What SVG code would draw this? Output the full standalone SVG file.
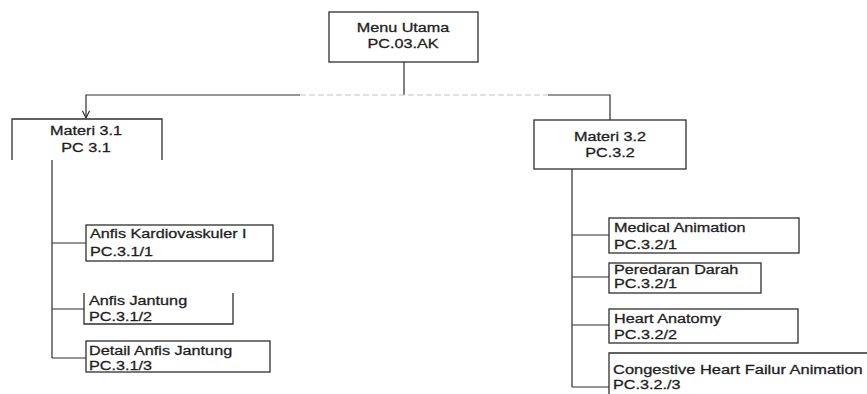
<svg xmlns="http://www.w3.org/2000/svg" width="867" height="394" viewBox="0 0 867 394">
  <style>
    .box { fill: none; stroke: #2e2e2e; stroke-width: 1.3; }
    .wire { fill: none; stroke: #2e2e2e; stroke-width: 1.2; }
    .faint { fill: none; stroke: #c4c4c4; stroke-width: 1.1; stroke-dasharray: 6 3; }
    .lbl { font-family: "Liberation Sans", Arial, sans-serif; font-size: 13.5px; fill: #1e1e1e; stroke: #1e1e1e; stroke-width: 0.3; }
    .mid { text-anchor: middle; }
  </style>
  <defs>
    <marker id="arrow" viewBox="0 0 10 10" refX="9" refY="5" markerWidth="9" markerHeight="9" orient="auto" markerUnits="userSpaceOnUse">
      <path d="M1,1 L9,5 L1,9" fill="none" stroke="#2e2e2e" stroke-width="1.3"/>
    </marker>
  </defs>
  <rect width="867" height="394" fill="#ffffff"/>

  <!-- connectors -->
  <g id="connectors">
    <path class="wire" d="M404,62 V95"/>
    <path class="wire" d="M300,95 H86 V118" marker-end="url(#arrow)"/>
    <path class="faint" d="M300,95 H548"/>
    <path class="wire" d="M548,95 H610 V120"/>
    <path class="wire" d="M52,160 V358 M52,243 H86 M52,309 H84 M52,358 H86"/>
    <path class="wire" d="M572,169 V387 M572,235 H609 M572,277 H609 M572,325 H609 M572,387 H609"/>
  </g>

  <!-- root -->
  <g id="menu-utama">
    <rect class="box" x="329" y="12" width="149" height="50"/>
    <text class="lbl mid" transform="translate(403,32) scale(1.2,1)">Menu Utama</text>
    <text class="lbl mid" transform="translate(403,48) scale(1.2,1)">PC.03.AK</text>
  </g>

  <!-- first branch -->
  <g id="materi-3-1">
    <path class="box" d="M12,160 V119 H162 V160"/>
    <text class="lbl mid" transform="translate(86,135) scale(1.2,1)">Materi 3.1</text>
    <text class="lbl mid" transform="translate(86,152) scale(1.2,1)">PC 3.1</text>
  </g>
  <g id="anfis-kardiovaskuler">
    <rect class="box" x="86" y="225" width="187" height="36"/>
    <text class="lbl" transform="translate(90,238) scale(1.2,1)">Anfis Kardiovaskuler I</text>
    <text class="lbl" transform="translate(90,256) scale(1.2,1)">PC.3.1/1</text>
  </g>
  <g id="anfis-jantung">
    <path class="box" d="M84,293 V324 H233 V293"/>
    <text class="lbl" transform="translate(89,305) scale(1.2,1)">Anfis Jantung</text>
    <text class="lbl" transform="translate(89,321) scale(1.2,1)">PC.3.1/2</text>
  </g>
  <g id="detail-anfis-jantung">
    <rect class="box" x="86" y="341" width="184" height="31"/>
    <text class="lbl" transform="translate(89,355) scale(1.2,1)">Detail Anfis Jantung</text>
    <text class="lbl" transform="translate(89,370) scale(1.2,1)">PC.3.1/3</text>
  </g>

  <!-- second branch -->
  <g id="materi-3-2">
    <rect class="box" x="534" y="120" width="152" height="49"/>
    <text class="lbl mid" transform="translate(610,141) scale(1.2,1)">Materi 3.2</text>
    <text class="lbl mid" transform="translate(610,157) scale(1.2,1)">PC.3.2</text>
  </g>
  <g id="medical-animation">
    <rect class="box" x="609" y="218" width="190" height="35"/>
    <text class="lbl" transform="translate(614,232) scale(1.2,1)">Medical Animation</text>
    <text class="lbl" transform="translate(614,249) scale(1.2,1)">PC.3.2/1</text>
  </g>
  <g id="peredaran-darah">
    <rect class="box" x="609" y="263" width="152" height="30"/>
    <text class="lbl" transform="translate(614,274) scale(1.2,1)">Peredaran Darah</text>
    <text class="lbl" transform="translate(614,288) scale(1.2,1)">PC.3.2/1</text>
  </g>
  <g id="heart-anatomy">
    <rect class="box" x="609" y="309" width="189" height="34"/>
    <text class="lbl" transform="translate(614,323) scale(1.2,1)">Heart Anatomy</text>
    <text class="lbl" transform="translate(614,339) scale(1.2,1)">PC.3.2/2</text>
  </g>
  <g id="congestive-heart-failure">
    <path class="box" d="M609,394 V353 H867"/>
    <text class="lbl" transform="translate(613,374) scale(1.22,1)">Congestive Heart Failur Animation</text>
    <text class="lbl" transform="translate(613,389) scale(1.2,1)">PC.3.2./3</text>
  </g>
</svg>
